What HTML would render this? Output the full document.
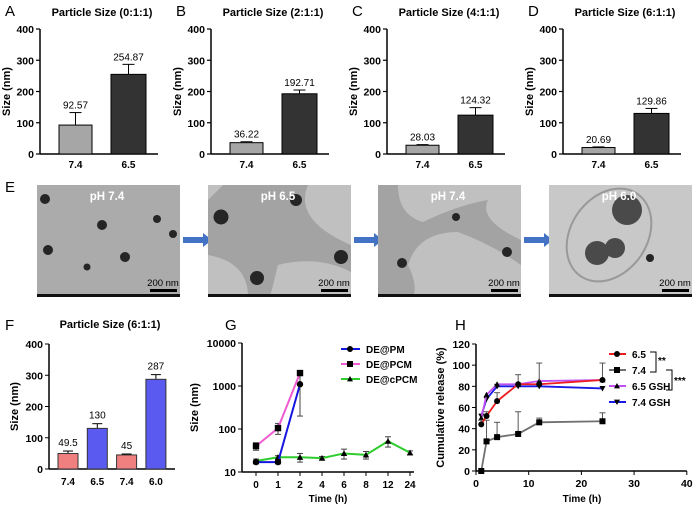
<!DOCTYPE html>
<html><head><meta charset="utf-8"><style>
body{margin:0;background:#fff;width:700px;height:508px;overflow:hidden}
svg{font-family:"Liberation Sans",Arial,sans-serif}
</style></head><body>
<svg id="s" width="700" height="508" viewBox="0 0 700 508" xmlns="http://www.w3.org/2000/svg"></svg>
<script>
// ---- data ----
const sizeCats = ["7.4","6.5"];
const ratioTitles = ["Particle Size (0:1:1)","Particle Size (2:1:1)","Particle Size (4:1:1)","Particle Size (6:1:1)"];
const ratioLetters = ["A","B","C","D"];
const ratioMeans = [[92.57,254.87],[36.22,192.71],[28.03,124.32],[20.69,129.86]];
const ratioErr = [[40,32],[3,12],[2,24],[2,16]];
const sizeTicks = [0,100,200,300,400];
const fCats = ["7.4","6.5","7.4","6.0"];
const fVals = [49.5,130,45,287];
const fErr = [8,15,3,15];
const fLabels = ["49.5","130","45","287"];
const gCats = ["0","1","2","4","6","8","12","24"];
const gPM = [17,17,1100];
const gPMerr = [1.5,1.5,900];
const gPCM = [40,105,2000];
const gPCMerr = [8,30,0];
const gcPCM = [18,22,22,21,27,25,52,28];
const gcPCMerr = [2,2,5,2,7,5,14,3];
const gTicks = [10,100,1000,10000];
const hTime = [1,2,4,8,12,24];
const h65 = [44,52,66,82,82,86];
const h65e = [4,4,8,9,20,16];
const h74 = [0,28,32,35,46,47];
const h74e = [0,20,14,21,4,8];
const h65g = [50,72,82,82,85,86];
const h74g = [52,68,80,80,80,78];
const hXTicks = [0,10,20,30,40];
const hYTicks = [0,20,40,60,80,100,120];

const S=document.getElementById('s');const NS="http://www.w3.org/2000/svg";
function el(t,a,p){const e=document.createElementNS(NS,t);for(const k in a)e.setAttribute(k,a[k]);(p||S).appendChild(e);return e;}
function tx(x,y,s,a,p){const e=el('text',Object.assign({x:x,y:y},a),p);e.textContent=s;return e;}

// ---- panels A-D ----
const axX=[40,211,387,563];
ratioTitles.forEach((title,i)=>{
  const g=el('g',{});
  
  
  const x0=axX[i], y0=154, yT=29;
  const ys=v=>y0-(v/400)*(y0-yT);
  tx(x0-35,16,ratioLetters[i],{'font-size':15},g);
  tx(x0+62,16,title,{'font-size':11,'font-weight':'bold','text-anchor':'middle'},g);
  const yl=tx(0,0,'Size (nm)',{'font-size':11,'font-weight':'bold','text-anchor':'middle',transform:`translate(${x0-30},${ys(200)}) rotate(-90)`},g);
  
  el('line',{x1:x0,y1:yT,x2:x0,y2:y0,stroke:'#000','stroke-width':1.5},g);
  el('line',{x1:x0,y1:y0,x2:x0+118,y2:y0,stroke:'#000','stroke-width':1.5},g);
  sizeTicks.forEach(t=>{el('line',{x1:x0-4,y1:ys(t),x2:x0,y2:ys(t),stroke:'#000','stroke-width':1.2},g);
    tx(x0-6,ys(t)+4,t,{'font-size':10.5,'font-weight':'bold','text-anchor':'end'},g);});
  const bx=[[19,52],[71,106]];
  sizeCats.forEach((c,j)=>{
    const v=ratioMeans[i][j],e=ratioErr[i][j],xa=x0+bx[j][0],xb=x0+bx[j][1],cx=(xa+xb)/2;
    el('line',{x1:cx,y1:ys(v),x2:cx,y2:ys(v+e),stroke:'#000','stroke-width':1},g);
    el('line',{x1:cx-6,y1:ys(v+e),x2:cx+6,y2:ys(v+e),stroke:'#000','stroke-width':1},g);
    const r=el('rect',{x:xa,y:ys(v),width:xb-xa,height:y0-ys(v),fill:j?'#333':'#a6a6a6',stroke:'#000','stroke-width':1},g);
    
    tx(cx,ys(v+e)-4,v.toFixed(2),{'font-size':10,'text-anchor':'middle'},g);
    tx(cx,168,c,{'font-size':10,'font-weight':'bold','text-anchor':'middle'},g);
  });
});

// ---- panel E (TEM images) ----
const E=el('g',{});
tx(5,192,'E',{'font-size':15},E);
const imgX=[37,208,378,549];
const imgLbl=['pH 7.4','pH 6.5','pH 7.4','pH 6.0'];
const dots=[[[45,199,5],[102,225,5],[157,219,4],[173,234,4],[48,250,5],[125,257,5],[87,267,3.5]],
 [[221,217,7.5],[296,200,6],[341,257,7],[257,278,7]],
 [[456,217,4],[402,263,5],[507,252,5]],
 [[627,210,15],[597,253,12],[615,248,10],[650,258,4]]];
imgX.forEach((x,i)=>{
  const g=el('g',{},E);
  el('clipPath',{id:'c'+i},g);
  el('rect',{x:x,y:185,width:143,height:112},document.getElementById('c'+i));
  const gi=el('g',{'clip-path':`url(#c${i})`},g);
  el('rect',{x:x,y:185,width:143,height:112,fill:i==3?'#c8c8c8':(i==0?'#ababab':'#c0c0c0')},gi);
  if(i==1){el('path',{d:`M${x+15} 185 L${x+100} 185 Q${x+85} 220 ${x+143} 245 L${x+143} 272 Q${x+110} 255 ${x+70} 265 L${x+62} 297 L${x+40} 297 Q${x+40} 262 ${x} 255 L${x} 200 Z`,fill:'#a3a3a3'},gi);}
  if(i==2){el('path',{d:`M${x} 185 L${x+20} 185 Q${x+20} 215 ${x+45} 222 Q${x+80} 205 ${x+110} 200 Q${x+100} 220 ${x+143} 240 L${x+143} 265 Q${x+115} 245 ${x+80} 232 Q${x+40} 232 ${x+30} 265 Q${x+40} 285 ${x+35} 297 L${x} 297 Z`,fill:'#a3a3a3'},gi);}
  if(i==3){el('ellipse',{cx:x+60,cy:235,rx:38,ry:50,fill:'none',stroke:'#999','stroke-width':2,transform:`rotate(35 ${x+60} 235)`},gi);}
  dots[i].forEach(d=>{el('circle',{cx:d[0],cy:d[1],r:d[2],fill:i==3&&d[2]>8?'#4a4a4a':'#252525'},gi);});
  el('rect',{x:x,y:294,width:143,height:3,fill:'#111'},gi);
  el('rect',{x:x+113,y:289,width:27,height:3,fill:'#000'},gi);
  tx(x+126,286,'200 nm',{'font-size':9.5,'text-anchor':'middle'},gi);
  tx(x+70,200,imgLbl[i],{'font-size':11.5,'font-weight':'bold',fill:'#fff','text-anchor':'middle'},gi);
  if(i<3){const ax=x+146;const ar=el('path',{d:`M${ax} 237 h20 v-4 l9 7 l-9 7 v-4 h-20 z`,fill:'#4472c4'},E);
    }
});

// ---- panel F ----
(function(){
  const g=el('g',{});
  const x0=49,y0=469,yT=344,ys=v=>y0-(v/400)*(y0-yT);
  tx(5,330,'F',{'font-size':15},g);
  tx(110,328,'Particle Size (6:1:1)',{'font-size':11,'font-weight':'bold','text-anchor':'middle'},g);
  tx(0,0,'Size (nm)',{'font-size':11,'font-weight':'bold','text-anchor':'middle',transform:`translate(18,${ys(200)}) rotate(-90)`},g);
  el('line',{x1:x0,y1:yT,x2:x0,y2:y0,stroke:'#000','stroke-width':1.5},g);
  el('line',{x1:x0,y1:y0,x2:175,y2:y0,stroke:'#000','stroke-width':1.5},g);
  sizeTicks.forEach(t=>{el('line',{x1:x0-4,y1:ys(t),x2:x0,y2:ys(t),stroke:'#000'},g);
    tx(x0-6,ys(t)+4,t,{'font-size':10.5,'font-weight':'bold','text-anchor':'end'},g);});
  fCats.forEach((c,j)=>{
    const xa=58+j*29.3,cx=xa+10,v=fVals[j],e=fErr[j];
    el('line',{x1:cx,y1:ys(v),x2:cx,y2:ys(v+e),stroke:'#000'},g);
    el('line',{x1:cx-5,y1:ys(v+e),x2:cx+5,y2:ys(v+e),stroke:'#000'},g);
    const r=el('rect',{x:xa,y:ys(v),width:20,height:y0-ys(v),fill:j%2?'#5a5af0':'#f08080',stroke:'#333','stroke-width':1},g);
    
    tx(cx,ys(v+e)-5,fLabels[j],{'font-size':10,'text-anchor':'middle'},g);
    tx(cx,485,c,{'font-size':10,'font-weight':'bold','text-anchor':'middle'},g);
  });
})();

function marker(g,mk,x,y,r){
  if(mk=='circ')el('circle',{cx:x,cy:y,r:r,fill:'#000'},g);
  else if(mk=='sq')el('rect',{x:x-r,y:y-r,width:2*r,height:2*r,fill:'#000'},g);
  else if(mk=='tri')el('path',{d:`M${x} ${y-r} L${x+r} ${y+r*0.8} L${x-r} ${y+r*0.8}Z`,fill:'#000'},g);
  else el('path',{d:`M${x} ${y+r} L${x+r} ${y-r*0.8} L${x-r} ${y-r*0.8}Z`,fill:'#000'},g);
}

// ---- panel G ----
(function(){
  const g=el('g',{});
  const x0=242,y0=472,yT=343,ys=v=>y0-(Math.log10(v)-1)/3*(y0-yT),xs=i=>256+i*22;
  tx(225,330,'G',{'font-size':15},g);
  tx(0,0,'Size (nm)',{'font-size':11,'font-weight':'bold','text-anchor':'middle',transform:`translate(198,${ys(316)}) rotate(-90)`},g);
  el('line',{x1:x0,y1:yT,x2:x0,y2:y0,stroke:'#000','stroke-width':1.5},g);
  el('line',{x1:x0,y1:y0,x2:414,y2:y0,stroke:'#000','stroke-width':1.5},g);
  gTicks.forEach(t=>{el('line',{x1:x0-4,y1:ys(t),x2:x0,y2:ys(t),stroke:'#000'},g);
    tx(x0-6,ys(t)+4,t,{'font-size':10.5,'font-weight':'bold','text-anchor':'end'},g);});
  gCats.forEach((c,i)=>{el('line',{x1:xs(i),y1:y0,x2:xs(i),y2:y0+4,stroke:'#000'},g);
    tx(xs(i),y0+16,c,{'font-size':10,'font-weight':'bold','text-anchor':'middle'},g);});
  tx(328,502,'Time (h)',{'font-size':10,'font-weight':'bold','text-anchor':'middle'},g);
  const series=[[gcPCM,gcPCMerr,'#2ecc2e','tri','cpcm'],[gPM,gPMerr,'#1515e0','circ','pm'],[gPCM,gPCMerr,'#f05ad2','sq','pcm']];
  series.forEach(s=>{
    const [vals,errs,col,mk,nm]=s;
    vals.forEach((v,i)=>{if(errs[i]){const a=ys(v+errs[i]),b=ys(Math.max(v-errs[i],1));
      el('line',{x1:xs(i),y1:a,x2:xs(i),y2:b,stroke:'#444'},g);
      el('line',{x1:xs(i)-3,y1:a,x2:xs(i)+3,y2:a,stroke:'#444'},g);el('line',{x1:xs(i)-3,y1:b,x2:xs(i)+3,y2:b,stroke:'#444'},g);}});
    const l=el('polyline',{points:vals.map((v,i)=>xs(i)+','+ys(v)).join(' '),fill:'none',stroke:col,'stroke-width':2},g);
    
    vals.forEach((v,i)=>marker(g,mk,xs(i),ys(v),3.2));
  });
  const leg=[['DE@PM','#1515e0','circ'],['DE@PCM','#f05ad2','sq'],['DE@cPCM','#2ecc2e','tri']];
  leg.forEach((L,k)=>{const y=349+k*15;const lg=el('g',{},g);
    
    el('line',{x1:341,y1:y,x2:360,y2:y,stroke:L[1],'stroke-width':2},lg);marker(lg,L[2],350,y,3);
    tx(366,y+4,L[0],{'font-size':10,'font-weight':'bold'},lg);});
})();

// ---- panel H ----
(function(){
  const g=el('g',{});
  const x0=476,y0=471,yT=344,ys=v=>y0-v/120*(y0-yT),xs=t=>x0+t*5.27;
  tx(455,330,'H',{'font-size':15},g);
  tx(0,0,'Cumulative release (%)',{'font-size':11,'font-weight':'bold','text-anchor':'middle',transform:`translate(444,${ys(60)}) rotate(-90)`},g);
  el('line',{x1:x0,y1:yT,x2:x0,y2:y0,stroke:'#000','stroke-width':1.5},g);
  el('line',{x1:x0,y1:y0,x2:xs(40),y2:y0,stroke:'#000','stroke-width':1.5},g);
  hYTicks.forEach(t=>{el('line',{x1:x0-4,y1:ys(t),x2:x0,y2:ys(t),stroke:'#000'},g);
    tx(x0-6,ys(t)+4,t,{'font-size':10.5,'font-weight':'bold','text-anchor':'end'},g);});
  hXTicks.forEach(t=>{el('line',{x1:xs(t),y1:y0,x2:xs(t),y2:y0+4,stroke:'#000'},g);
    tx(xs(t),y0+16,t,{'font-size':10.5,'font-weight':'bold','text-anchor':'middle'},g);});
  tx(582,502,'Time (h)',{'font-size':10,'font-weight':'bold','text-anchor':'middle'},g);
  const series=[[h74,h74e,'#707070','sq','ph74'],[h74g,null,'#1a1ae6','itri','ph74-gsh'],[h65g,null,'#c050f0','tri','ph65-gsh'],[h65,h65e,'#ee1c1c','circ','ph65']];
  series.forEach(s=>{const [vals,errs,col,mk,nm]=s;
    if(errs)vals.forEach((v,i)=>{if(errs[i]){const a=ys(v+errs[i]);
      el('line',{x1:xs(hTime[i]),y1:ys(v),x2:xs(hTime[i]),y2:a,stroke:'#555'},g);
      el('line',{x1:xs(hTime[i])-3,y1:a,x2:xs(hTime[i])+3,y2:a,stroke:'#555'},g);}});
    const l=el('polyline',{points:vals.map((v,i)=>xs(hTime[i])+','+ys(v)).join(' '),fill:'none',stroke:col,'stroke-width':1.8},g);
    
    vals.forEach((v,i)=>marker(g,mk,xs(hTime[i]),ys(v),3));});
  const leg=[['6.5','#ee1c1c','circ'],['7.4','#707070','sq'],['6.5 GSH','#c050f0','tri'],['7.4 GSH','#1a1ae6','itri']];
  leg.forEach((L,k)=>{const y=354+k*16;const lg=el('g',{},g);
    
    el('line',{x1:609,y1:y,x2:626,y2:y,stroke:L[1],'stroke-width':2},lg);marker(lg,L[2],617,y,3);
    tx(632,y+4,L[0],{'font-size':10,'font-weight':'bold'},lg);});
  el('path',{d:'M650 352 h6 v20 h-6',fill:'none',stroke:'#000'},g);
  tx(658,364,'**',{'font-size':10,'font-weight':'bold'},g);
  el('path',{d:'M666 370 h6 v20 h-6',fill:'none',stroke:'#000'},g);
  tx(674,384,'***',{'font-size':10,'font-weight':'bold'},g);
})();
</script>
</body></html>
